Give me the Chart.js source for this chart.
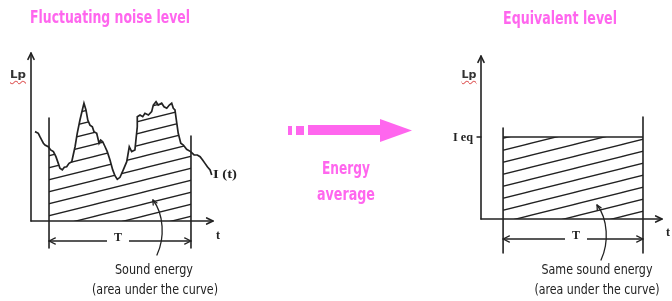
<!DOCTYPE html>
<html>
<head>
<meta charset="utf-8">
<script src="https://cdn.jsdelivr.net/npm/chart.js@4.4.1/dist/chart.umd.min.js"></script>
<style>
  html, body { margin: 0; padding: 0; background: #fff; }
  #stage { position: relative; width: 672px; height: 301px; overflow: hidden; font-family: 'Liberation Sans Narrow', 'DejaVu Sans Condensed', Roboto, sans-serif; }
  #stage canvas, #stage svg { position: absolute; left: 0; top: 0; }
  .lbl { position: absolute; white-space: nowrap; line-height: 1; }
  .pink { color: #ff66ee; font-weight: bold; font-size: 17px; }
  .cap { color: #222; font-size: 14px; }
  .mark { font-family: 'Liberation Serif', serif; font-weight: bold; color: #222; font-size: 12px; }
  .lp { font-family: 'DejaVu Sans', sans-serif; font-weight: bold; font-size: 11px; color: #333;
        text-decoration: underline wavy #e06060; text-decoration-thickness: 1px; text-underline-offset: 2px; }
  .tlab { background: #fff; padding: 0 7px; }
</style>
</head>
<body>
<div id="stage">
  <canvas id="noiseChart" width="672" height="301"></canvas>
  <canvas id="leqChart" width="672" height="301"></canvas>

  <svg width="672" height="301">
    <g fill="#ff66ee">
      <rect x="288" y="126" width="4" height="9"/>
      <rect x="296" y="126" width="8" height="9"/>
      <rect x="308" y="125" width="73" height="10"/>
      <polygon points="380,119 412,130.5 380,142"/>
    </g>
  </svg>

  <div class="lbl pink" data-x="110" data-w="160" style="top:9px">Fluctuating noise level</div>
  <div class="lbl pink" data-x="560" data-w="114" style="top:10px">Equivalent level</div>
  <div class="lbl pink" data-x="346" data-w="48" style="top:160px">Energy</div>
  <div class="lbl pink" data-x="346" data-w="58" style="top:186px">average</div>

  <div class="lbl lp" data-x="18" data-w="16" style="top:69px">Lp</div>
  <div class="lbl lp" data-x="469" data-w="15" style="top:69px">Lp</div>
  <div class="lbl mark" data-x="225" data-w="24" style="top:168px">I (t)</div>
  <div class="lbl mark" data-x="463" data-w="20" style="top:131px">I eq</div>
  <div class="lbl mark" data-x="218" style="top:229px">t</div>
  <div class="lbl mark" data-x="668" style="top:226px">t</div>
  <div class="lbl mark tlab" data-x="118" style="top:231px">T</div>
  <div class="lbl mark tlab" data-x="576" style="top:229px">T</div>

  <div class="lbl cap" data-x="154" data-w="78" style="top:262px">Sound energy</div>
  <div class="lbl cap" data-x="155" data-w="126" style="top:282px">(area under the curve)</div>
  <div class="lbl cap" data-x="597" data-w="111" style="top:262px">Same sound energy</div>
  <div class="lbl cap" data-x="597" data-w="125" style="top:282px">(area under the curve)</div>
</div>

<script>
// Fluctuating level l(t) (time 0-100, level 0-100)
const noiseTime = [2.2, 4.0, 4.9, 5.9, 6.8, 7.7, 9.5, 10.8, 12.3, 13.7, 15.0, 15.9, 17.2, 18.3, 19.6,
  20.9, 22.4, 23.2, 24.2, 25.4, 26.9, 28.2, 29.1, 30.2, 31.2, 32.4, 33.7, 34.6, 36.1, 37.4, 38.3,
  39.4, 40.7, 41.9, 43.4, 44.9, 46.2, 47.4, 48.9, 50.7, 52.6, 54.0, 55.3, 57.1, 58.4, 58.4, 59.9,
  61.4, 62.6, 64.5, 66.3, 67.2, 68.7, 69.9, 71.8, 73.1, 74.6, 76.0, 77.3, 78.2, 79.1, 80.1, 80.9,
  82.3, 83.7, 85.5, 87.7, 89.6, 91.4, 92.9, 94.3, 95.6, 96.9, 98.4, 99.3];
const noiseLevel = [53.2, 52.2, 50.2, 48.2, 46.3, 45.2, 44.2, 42.3, 41.3, 38.3, 34.3, 31.4, 30.4, 32.0, 32.3,
  34.3, 35.3, 39.3, 44.2, 52.2, 60.1, 66.1, 70.1, 66.1, 60.1, 57.1, 56.1, 53.2, 52.2, 46.3, 48.2,
  47.2, 44.2, 41.3, 36.3, 30.4, 26.8, 24.8, 26.0, 30.4, 35.3, 44.2, 41.3, 42.3, 56.1, 62.1, 63.1,
  62.1, 64.1, 63.1, 65.1, 69.0, 71.0, 69.0, 70.1, 68.0, 67.1, 69.0, 70.1, 67.1, 66.1, 58.2, 52.2,
  46.3, 45.2, 42.7, 41.3, 39.3, 39.3, 38.3, 36.3, 34.3, 32.3, 30.4, 27.4];
const noiseWindow = [9.9, 87.9];      // measurement period T (start, end)
const noiseMarkerTops = [61.3, 50.6]; // top of the two T marker lines
const noiseLeader = [67, 12.5];       // where the caption's leader points

// Equivalent level over the same period
const leqLevel = 50.3;
const leqWindow = [12.2, 89.5];
const leqMarkerTops = [55.8, 62.6];
const leqLeader = [64.1, 8.6];

const ink = '#222';

function hatchPattern() {
  const c = document.createElement('canvas');
  c.width = 48; c.height = 12;
  const g = c.getContext('2d');
  g.strokeStyle = ink;
  g.lineWidth = 1.3;
  for (let k = -1; k <= 1; k++) {
    g.beginPath();
    g.moveTo(0, 12 + k * 12);
    g.lineTo(48, k * 12);
    g.stroke();
  }
  return g.createPattern(c, 'repeat');
}

function seg(ctx, x1, y1, x2, y2) {
  ctx.beginPath(); ctx.moveTo(x1, y1); ctx.lineTo(x2, y2); ctx.stroke();
}
// open arrowhead at (x, y) pointing along angle a
function head(ctx, x, y, a, len) {
  ctx.beginPath();
  ctx.moveTo(x - len * Math.cos(a - 0.45), y - len * Math.sin(a - 0.45));
  ctx.lineTo(x, y);
  ctx.lineTo(x - len * Math.cos(a + 0.45), y - len * Math.sin(a + 0.45));
  ctx.stroke();
}

// axes, T markers, dimension arrow and leader drawn from the scales
const diagram = {
  id: 'diagram',
  beforeDatasetsDraw(chart, args, opts) {
    if (!opts.clipFill) return;
    const { ctx, chartArea: a, scales: { x } } = chart;
    const x0 = x.getPixelForValue(opts.window[0]);
    const x1 = x.getPixelForValue(opts.window[1]);
    ctx.save();
    ctx.beginPath();
    ctx.rect(x0, a.top - 40, x1 - x0, a.bottom - a.top + 40);
    ctx.clip();
  },
  afterDatasetDraw(chart, args, opts) {
    if (opts.clipFill && args.index === 0) chart.ctx.restore();
  },
  afterDraw(chart, args, opts) {
    const { ctx, chartArea: a, scales: { x, y } } = chart;
    ctx.save();
    ctx.strokeStyle = ink;
    ctx.lineWidth = 1.6;
    ctx.lineCap = 'round';
    ctx.lineJoin = 'round';

    seg(ctx, a.left, a.bottom, a.left, a.top);
    seg(ctx, a.left, a.bottom, a.right, a.bottom);
    head(ctx, a.left, a.top, -Math.PI / 2, 7);
    head(ctx, a.right, a.bottom, 0, 7);

    const x0 = x.getPixelForValue(opts.window[0]);
    const x1 = x.getPixelForValue(opts.window[1]);
    seg(ctx, x0, y.getPixelForValue(opts.markerTops[0]), x0, a.bottom + opts.drop);
    seg(ctx, x1, y.getPixelForValue(opts.markerTops[1]), x1, a.bottom + opts.drop);

    const dy = a.bottom + 20;
    ctx.lineWidth = 1.3;
    seg(ctx, x0, dy, x1, dy);
    head(ctx, x0, dy, Math.PI, 7);
    head(ctx, x1, dy, 0, 7);

    const lx = x.getPixelForValue(opts.leader[0]);
    const ly = y.getPixelForValue(opts.leader[1]);
    ctx.beginPath();
    ctx.moveTo(lx, ly);
    ctx.bezierCurveTo(lx + 11, ly + 14, lx + 12, ly + 38, lx + 4, ly + 55);
    ctx.stroke();
    head(ctx, lx, ly, -Math.PI / 2 - 0.5, 5);

    if (opts.tick != null) {
      const ty = y.getPixelForValue(opts.tick);
      seg(ctx, a.left - 4, ty, a.left, ty);
    }
    ctx.restore();
  }
};

const baseScales = {
  x: { type: 'linear', min: 0, max: 100, display: false },
  y: { type: 'linear', min: 0, max: 100, display: false }
};

const noisePts = noiseTime.map((t, i) => ({ x: t, y: noiseLevel[i] }));

new Chart(document.getElementById('noiseChart'), {
  type: 'line',
  data: {
    datasets: [
      { data: noisePts, order: 1, fill: 'origin', backgroundColor: hatchPattern(), borderWidth: 0, pointRadius: 0 },
      { data: noisePts, order: 0, fill: false, borderColor: ink, borderWidth: 1.7, pointRadius: 0 }
    ]
  },
  options: {
    responsive: false, animation: false, events: [],
    layout: { padding: { left: 31, top: 53, right: 459, bottom: 80 } },
    scales: baseScales,
    plugins: {
      legend: { display: false }, tooltip: { enabled: false },
      diagram: { clipFill: true, window: noiseWindow, markerTops: noiseMarkerTops, leader: noiseLeader, drop: 27 }
    }
  },
  plugins: [diagram]
});

new Chart(document.getElementById('leqChart'), {
  type: 'line',
  data: {
    datasets: [{
      data: leqWindow.map(t => ({ x: t, y: leqLevel })),
      fill: 'origin', backgroundColor: hatchPattern(), borderColor: ink, borderWidth: 1.7, pointRadius: 0
    }]
  },
  options: {
    responsive: false, animation: false, events: [],
    layout: { padding: { left: 481, top: 56, right: 10, bottom: 82 } },
    scales: baseScales,
    plugins: {
      legend: { display: false }, tooltip: { enabled: false },
      diagram: { window: leqWindow, markerTops: leqMarkerTops, leader: leqLeader, drop: 34, tick: leqLevel }
    }
  },
  plugins: [diagram]
});

// place labels by centre x, squeezing to the reference width where given
document.querySelectorAll('.lbl').forEach(el => {
  const w = el.getBoundingClientRect().width;
  const s = el.dataset.w ? (+el.dataset.w / w) : 1;
  el.style.left = el.dataset.x + 'px';
  el.style.transform = 'translateX(-50%) scaleX(' + s.toFixed(3) + ')';
});
</script>
</body>
</html>
